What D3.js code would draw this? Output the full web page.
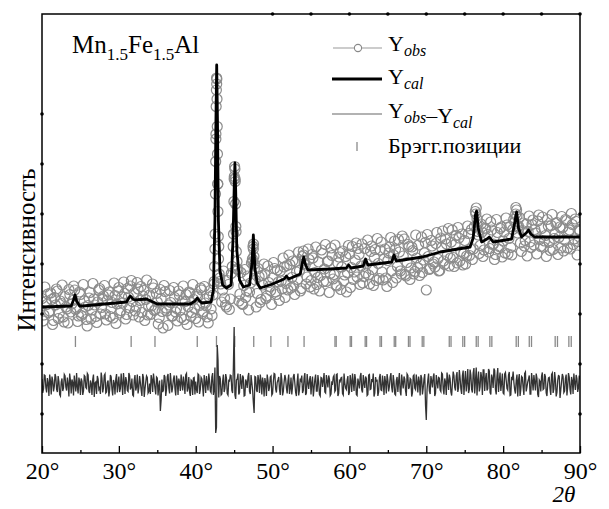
<!DOCTYPE html>
<html>
<head>
<meta charset="utf-8">
<script src="https://cdn.jsdelivr.net/npm/d3@7"></script>
<style>
  body { margin: 0; background: #fff; }
  text { font-family: "Liberation Serif", "DejaVu Serif", serif; fill: #000; }
</style>
</head>
<body>
<div id="chart"></div>
<script>
// observed intensity, grid 20..90 step 0.25 (arb. units)
var obsStart = 20, obsStep = 0.25;
var obsI = [
  23.1, 19.8, 22.5, 24.0,  20.6, 22.9, 18.7, 21.8,  24.6, 20.2, 22.1, 19.4,
  23.5, 21.0, 24.9, 20.4,  22.7, 24.8, 21.2, 19.6,  23.9, 20.1, 22.6, 18.9,
  21.7, 24.3, 20.8, 23.0,  19.5, 22.4, 25.1, 21.3,  23.6, 20.0, 22.8, 24.4,
  21.1, 19.2, 23.7, 22.0,  25.3, 20.7, 22.2, 24.1,  19.9, 23.4, 25.6, 22.5,
  24.2, 21.4, 25.0, 22.7,  20.3, 24.7, 22.9, 19.8,  23.8, 21.6, 25.2, 20.9,
  22.4, 19.3, 23.1, 17.2,  24.5, 20.6, 21.8, 22.3,  19.6, 23.3, 21.1, 24.6,
  20.8, 22.6, 18.9, 23.9,  21.5, 24.2, 20.3, 22.9,  19.1, 23.6, 21.7, 24.8,
  20.5, 22.2, 19.4, 23.4,  21.0, 23.8, 33.0, 67.0,  33.5, 26.0, 24.8, 23.2,
  21.4, 25.9, 23.0, 29.5,  47.0, 36.5, 28.9, 24.0,  22.1, 25.7, 23.3, 27.6,
  24.4, 30.2, 33.0, 26.8,  24.1, 27.5, 22.9, 25.8,  28.0, 23.6, 26.3, 24.7,
  27.2, 29.1, 23.9, 26.4,  28.6, 25.0, 29.4, 26.1,  24.8, 29.9, 27.3, 25.6,
  30.5, 26.9, 28.7, 25.1,  32.6, 29.8, 27.4, 30.9,  26.7, 31.2, 28.3, 25.9,
  30.4, 27.7, 32.1, 29.0,  26.5, 30.6, 28.1, 31.7,  27.9, 25.8, 30.2, 32.3,
  29.4, 26.6, 31.5, 28.2,  32.0, 29.3, 26.9, 30.8,  27.4, 31.9, 29.6, 26.2,
  33.1, 30.0, 27.8, 32.5,  28.9, 31.3, 26.7, 30.1,  32.8, 28.4, 31.0, 27.2,
  30.7, 33.4, 28.6, 31.8,  33.0, 29.5, 32.4, 28.0,  31.6, 27.9, 30.3, 33.5,
  29.2, 32.7, 28.5, 31.2,  33.8, 30.0, 28.3, 32.2,  24.8, 31.5, 29.1, 33.6,
  30.4, 34.1, 31.0, 28.7,  33.3, 30.6, 35.0, 31.8,  29.6, 34.4, 31.3, 33.9,
  30.2, 35.2, 32.5, 29.8,  34.7, 31.6, 36.1, 33.0,  30.9, 37.5, 41.2, 35.8,
  33.7, 36.4, 32.8, 37.0,  35.9, 33.1, 36.8, 34.0,  31.9, 36.3, 33.5, 37.4,
  34.6, 32.2, 37.8, 35.1,  33.3, 36.9, 38.4, 40.8,  37.6, 34.2, 36.7, 33.6,
  38.0, 36.5, 34.4, 37.9,  33.8, 36.2, 38.6, 34.9,  37.1, 33.4, 35.7, 38.9,
  34.3, 37.7, 32.9, 36.0,  38.3, 35.3, 33.2, 37.3,  34.8, 38.7, 36.4, 33.0,
  37.9, 35.0, 38.5, 34.5,  36.6
];

// observed intensity, in-between grid 20.125..89.875 step 0.25
var obs2Start = 20.125;
var obsI2 = [
  18.6, 25.4, 21.9, 20.3,  24.2, 17.9, 23.3, 25.0,  19.1, 22.6, 25.8, 18.4,
  21.4, 18.2, 23.9, 22.0,  25.6, 20.9, 18.5, 24.4,  19.7, 25.9, 21.4, 17.6,
  23.2, 19.0, 26.1, 21.8,  18.3, 24.8, 20.0, 22.9,  25.7, 18.8, 23.8, 19.5,
  22.3, 26.2, 18.1, 24.6,  20.2, 23.4, 26.4, 19.0,  25.1, 21.2, 26.7, 19.8,
  20.6, 26.3, 19.4, 25.5,  23.6, 18.7, 26.8, 21.5,  19.9, 26.0, 20.7, 24.1,
  18.0, 24.9, 20.5, 25.7,  21.2, 17.7, 24.7, 19.6,  25.3, 20.4, 18.6, 23.8,
  19.3, 25.6, 22.5, 17.9,  24.4, 19.5, 25.9, 21.1,  23.9, 18.4, 25.2, 20.1,
  25.5, 21.6, 18.2, 24.7,  19.7, 26.0, 55.0, 46.0,  27.2, 22.4, 28.6, 21.8,
  26.7, 20.9, 28.1, 33.5,  47.0, 30.5, 22.6, 28.3,  21.9, 28.9, 24.6, 20.8,
  26.2, 31.0, 30.0, 21.4,  29.1, 22.3, 27.7, 30.0,  23.1, 29.6, 25.5, 21.9,
  30.3, 24.4, 28.8, 22.7,  26.6, 31.2, 23.3, 29.7,  31.8, 25.2, 30.6, 23.9,
  28.4, 32.4, 24.6, 31.5,  30.1, 26.0, 33.0, 25.4,  31.9, 25.0, 33.4, 27.3,
  24.6, 32.8, 26.5, 33.9,  30.5, 24.3, 33.2, 27.0,  33.8, 25.6, 31.4, 24.9,
  32.6, 27.8, 24.4, 33.7,  25.3, 33.5, 28.4, 34.2,  33.1, 25.9, 34.0, 27.5,
  28.2, 34.8, 26.0, 33.6,  25.7, 32.9, 35.1, 27.1,  34.4, 26.8, 33.0, 25.5,
  32.2, 35.3, 26.3, 34.6,  27.2, 34.9, 28.6, 35.6,  35.0, 27.6, 33.9, 26.9,
  33.4, 28.0, 35.8, 29.3,  27.7, 35.4, 30.8, 34.3,  35.9, 28.9, 34.7, 30.0,
  29.4, 36.3, 28.6, 35.2,  36.6, 29.9, 34.0, 37.1,  31.2, 36.8, 29.5, 35.7,
  37.3, 30.6, 36.0, 32.1,  30.0, 37.6, 31.7, 36.9,  33.0, 40.5, 37.8, 32.1,
  38.0, 31.5, 37.2, 39.0,  32.4, 38.4, 33.9, 30.9,  38.9, 33.0, 37.1, 31.4,
  36.4, 39.2, 32.0, 37.5,  31.8, 38.9, 40.0, 36.2,  39.3, 32.5, 38.2, 34.7,
  31.6, 39.6, 33.3, 38.8,  36.9, 32.0, 39.8, 33.5,  39.4, 34.6, 31.5, 37.6,
  32.7, 39.9, 35.1, 38.1,  31.9, 37.4, 39.5, 32.6,  38.9, 33.2, 36.8, 40.1,
  33.9, 39.0, 31.8, 36.9
];

// extra observed points measured across the reflections [2theta, I]
var obsPeaks = [
  [42.40, 26.5], [42.45, 29.5], [42.52, 36.0], [42.57, 44.0], [42.60, 50.5],
  [42.63, 56.0], [42.66, 61.5], [42.69, 64.8], [42.71, 67.2], [42.73, 66.0],
  [42.77, 63.0], [42.80, 57.5], [42.83, 52.0], [42.86, 46.0], [42.89, 40.5],
  [42.93, 35.5], [42.97, 31.0], [43.05, 28.0], [43.12, 26.5],
  [44.92, 36.0], [44.97, 42.5], [45.02, 47.5], [45.06, 49.5], [45.10, 49.0],
  [45.14, 46.5], [45.18, 42.0], [45.22, 37.5], [45.28, 32.5], [45.35, 29.0],
  [47.40, 30.5], [47.45, 33.5], [47.52, 34.0], [47.57, 31.5], [47.63, 29.0],
  [54.02, 31.8], [54.10, 30.6],
  [76.45, 40.0], [76.60, 39.0], [76.70, 36.5],
  [81.65, 41.3], [81.80, 39.6], [81.90, 37.4]
];

// calculated profile [2theta, I]
var calc = [
  [20.0, 21.4], [23.8, 21.6], [24.1, 22.8], [24.3, 23.8], [24.5, 22.6], [24.9, 21.6],
  [25.3, 21.6], [31.0, 22.4], [31.3, 23.2], [31.5, 23.6], [31.8, 23.0], [32.1, 22.8],
  [33.6, 23.0], [35.0, 22.0], [39.3, 22.0], [39.9, 22.6], [40.2, 23.2], [40.5, 22.6],
  [40.8, 22.2], [42.0, 22.4], [42.3, 24.8], [42.5, 38.8], [42.63, 58.8], [42.73, 69.8],
  [42.83, 58.8], [42.95, 38.8], [43.15, 28.8], [43.5, 25.8], [44.0, 25.2], [44.6, 25.8],
  [44.85, 34.8], [45.0, 44.8], [45.1, 50.2], [45.2, 44.8], [45.35, 32.8], [45.7, 26.8],
  [46.2, 25.4], [47.0, 25.8], [47.3, 29.8], [47.5, 35.8], [47.7, 29.2], [48.0, 26.2],
  [48.4, 25.2], [50.0, 26.0], [51.5, 27.0], [51.8, 27.6], [52.1, 27.0], [53.6, 28.0],
  [53.9, 30.4], [54.05, 31.4], [54.25, 30.0], [54.6, 28.8], [57.5, 29.0], [59.6, 29.2],
  [59.9, 29.8], [60.2, 29.2], [61.8, 29.6], [62.1, 31.0], [62.4, 29.8], [65.5, 30.4],
  [65.8, 31.8], [66.1, 30.6], [69.5, 31.4], [71.8, 32.4], [75.7, 33.4], [76.1, 35.2],
  [76.4, 39.8], [76.55, 40.6], [76.75, 37.2], [77.2, 34.4], [77.9, 35.0], [78.2, 35.4],
  [78.7, 34.4], [81.1, 35.0], [81.45, 37.8], [81.75, 40.4], [82.0, 37.2], [82.4, 35.4],
  [83.0, 36.2], [83.3, 36.8], [83.6, 36.0], [84.1, 35.4], [90.0, 35.4]
];

// difference Yobs - Ycal, drawn around diffBase
// diffA: 20.0..90.0 step 0.2, diffB: 20.1..89.9 step 0.2
var diffBase = 5.8, diffStep = 0.2;
var diffA = [
  1.2, -0.8, 1.9, -1.5, 0.4, 2.1, -1.9, 0.9, -0.3, 1.6,
  -1.4, 0.7, -2.2, 1.3, -0.6, 1.8, -1.1, 0.2, 2.3, -1.7,
  0.5, 1.9, -1.3, -0.4, 1.5, -2.0, 0.8, -1.2, 1.7, -0.7,
  2.0, -1.6, 0.3, 1.1, -2.4, 0.6, 1.8, -0.9, -1.8, 1.4,
  -0.5, 2.2, -1.4, 0.9, -1.0, 1.6, -2.1, 0.4, 1.2, -1.5,
  1.7, -0.7, 0.2, 2.4, -1.8, 0.8, -1.3, 1.9, -0.4, -2.0,
  1.0, -1.1, 2.1, -0.6, 0.5, -2.2, 1.5, -0.8, 1.8, -1.6,
  0.3, 2.0, -1.4, 0.9, -1.9, 1.4, -0.2, -5.2, 1.1, -1.0,
  1.6, -0.9, 2.2, -1.7, 0.6, -0.4, 1.9, -2.1, 0.8, 1.3,
  -1.2, 0.4, 1.7, -1.8, 2.3, -0.6, -1.4, 1.0, -2.0, 1.5,
  0.7, -1.6, 2.0, -0.9, 1.2, -2.3, 0.5, 1.8, -1.1, 0.9,
  -1.5, 2.4, -1.0, -9.6, 8.0, -2.5, 1.3, -1.8, 2.1, -0.7,
  1.4, -2.0, 0.8, 1.9, -1.6, 11.6, -2.8, 1.2, -1.9, 2.2,
  -0.8, 1.5, -2.1, 0.6, 1.7, -1.3, 2.0, -1.0, -5.6, 1.6,
  -1.4, 0.9, 2.1, -1.9, 0.3, 1.4, -2.2, 1.0, -0.5, 1.8,
  -1.7, 2.3, -0.8, 0.5, 1.6, -2.0, 1.1, -1.3, 2.0, -0.6,
  0.8, -1.8, 1.5, -0.3, 2.2, -1.5, 0.6, -2.1, 1.3, 1.9,
  -1.1, 2.4, -1.6, 0.4, 1.0, -1.9, 1.7, -0.7, 2.1, -1.2,
  0.6, -2.2, 1.4, 0.9, -1.4, 2.0, -0.5, 1.2, -1.8, 0.3,
  1.9, -1.0, 2.2, -1.7, 0.7, 1.5, -2.0, 0.4, -0.9, 1.8,
  -1.5, 0.8, 2.3, -1.2, 1.1, -2.1, 0.5, 1.7, -1.0, 2.0,
  -0.6, 1.3, -1.9, 2.1, -0.8, 0.6, -2.3, 1.6, 0.9, -1.4,
  2.2, -1.1, 0.4, 1.8, -1.7, 1.0, -0.3, 2.4, -1.5, 0.7,
  -2.0, 1.6, 0.8, -1.3, 2.1, -0.7, 1.2, -2.2, 1.9, -0.4,
  1.1, -1.6, 2.0, -0.9, 0.5, 1.7, -2.1, 1.4, -0.6, 2.2,
  -7.0, 1.0, -1.2, 1.8, -0.5, 2.3, -1.7, 0.6, 1.5, -1.0,
  2.4, -0.8, 1.3, -2.0, 0.9, 2.1, -1.4, 0.3, 1.9, -1.1,
  2.6, -0.6, 1.4, -1.8, 2.9, 0.7, -1.3, 3.2, -0.9, 2.0,
  -1.5, 3.4, 0.8, -2.1, 2.7, -0.4, 1.6, 3.0, -1.2, 2.4,
  -0.7, 2.8, -1.9, 1.3, 3.3, -0.9, 1.8, -1.4, 2.5, 0.4,
  -1.6, 2.2, 0.9, -1.0, 2.6, -2.0, 1.2, 0.5, -1.7, 2.1,
  1.0, -2.2, 1.7, -0.5, 2.3, -1.3, 0.6, 1.9, -1.8, 0.8,
  2.0, -1.1, 1.4, -2.4, 0.7, 1.8, -0.9, 2.2, -1.6, 0.3,
  1.5, -2.0, 2.4, -0.8, 1.1, -1.5, 1.9, -2.6, 0.6, 1.7,
  -1.2, 2.1, -0.4, 1.6, -1.9, 0.9, 2.3, -1.0, 1.3, -0.6,
  1.1
];
var diffB = [
  -1.6, 2.0, -0.5, 1.4, -2.2, 0.8, 1.7, -1.3, 2.2, -0.9,
  1.8, -1.9, 0.6, -1.2, 2.1, -0.4, 1.5, -2.3, 0.9, 1.1,
  -2.1, 0.3, 2.4, -1.7, 0.7, 1.3, -2.0, 1.9, -0.5, 2.3,
  -1.2, 0.9, -2.0, 2.1, 0.4, -1.8, 1.2, -0.6, 2.5, -1.5,
  1.9, -1.6, 0.5, -2.3, 2.0, -0.8, 1.0, -1.9, 2.2, 0.2,
  -1.4, 2.3, -2.0, 0.7, 1.6, -1.1, 2.4, -0.9, 1.3, -2.2,
  2.0, -0.4, -1.7, 1.8, -1.0, 2.2, -2.4, 0.6, 1.5, -1.3,
  -1.8, 1.1, 2.3, -0.7, 1.6, -2.1, 0.9, -3.0, -1.4, 2.0,
  -2.2, 1.7, -0.6, 2.4, -1.5, 1.2, -0.8, 1.9, -2.0, 0.5,
  2.1, -1.1, 0.3, 2.0, -1.3, 1.6, -2.2, 0.8, 1.4, -1.9,
  -0.9, 2.2, -1.8, 1.5, -0.3, 2.0, -1.6, 0.4, 2.3, -1.2,
  1.6, -2.0, 3.5, -8.5, 5.0, 1.8, -2.0, 0.7, -1.4, 2.2,
  -1.7, 0.9, 2.0, -1.1, 3.5, -2.0, 1.0, 2.3, -1.5, 0.6,
  1.9, -2.2, 1.1, -0.6, 2.4, -1.8, 0.5, -3.5, 1.7, -1.0,
  2.0, -1.6, 0.8, 1.5, -2.3, 0.4, 2.1, -1.2, 1.6, -2.0,
  0.7, 2.2, -1.5, 1.0, -0.9, 2.4, -2.1, 0.6, 1.3, -1.7,
  2.1, -0.7, -1.9, 1.7, 0.3, -2.2, 2.3, -1.0, 0.9, -1.6,
  1.4, -2.0, 2.2, -0.8, 1.8, 0.4, -2.3, 1.1, -1.2, 2.0,
  -1.9, 1.5, -0.4, 2.4, -1.6, 0.8, 1.9, -2.1, 0.5, 1.6,
  -1.3, 2.1, -2.2, 0.9, 1.4, -1.7, 2.3, -0.6, 1.0, -2.0,
  2.0, -1.4, 0.6, 2.2, -1.9, 1.3, -0.7, 2.4, -1.5, 0.4,
  1.7, -2.1, 2.0, -0.9, 1.2, 2.3, -1.6, 0.8, -2.2, 1.5,
  -1.0, 1.9, -2.0, 0.6, 2.2, -1.3, 1.6, -0.5, 2.0, -1.8,
  0.9, -1.4, 2.4, -2.1, 0.5, 1.7, -1.1, 2.2, -0.8, 1.3,
  -2.3, 1.8, -0.6, 2.1, -1.5, 0.7, 2.0, -1.9, 1.2, -4.0,
  -1.0, 2.3, -1.8, 0.9, 1.6, -2.2, 2.0, -0.7, 1.4, -1.3,
  2.2, -1.9, 0.6, 2.5, -1.0, 1.3, -2.1, 2.7, -0.5, 1.8,
  -1.4, 3.0, -0.8, 1.9, -2.0, 2.8, 0.5, -1.6, 3.1, -0.9,
  2.4, -1.7, 3.5, 0.9, -1.3, 2.6, -2.0, 3.0, 1.2, -1.1,
  3.2, -1.5, 2.1, -0.6, 2.9, -1.9, 3.4, 0.8, -1.2, 2.3,
  -1.8, 2.5, -0.7, 2.0, -2.1, 1.4, 2.7, -1.0, 0.9, -2.3,
  2.2, -0.9, 1.5, -2.0, 2.6, -0.4, 1.2, -1.8, 2.4, -1.1,
  0.6, 2.3, -1.9, 1.0, -1.3, 2.5, -0.7, 1.7, -2.2, 1.4,
  -0.8, 2.1, -1.6, 2.6, -2.3, 0.9, 1.8, -1.0, 2.2, -1.5,
  1.3, -2.1, 2.4, -0.9, 1.6, -1.8, 0.5, 2.0, -1.4, 1.9
];

// Bragg positions (K-alpha1 and the K-alpha2 partners that show at high angle)
var bragg = [24.35, 31.6, 34.7, 40.2, 42.7, 45.08, 47.55, 49.78, 52.0, 54.1,
  58.12, 60.1, 62.05, 63.98, 65.83, 67.68, 69.47, 72.99, 74.75, 76.5, 78.27,
  81.7, 83.4, 86.77, 88.55];
var bragg2 = [58.28, 60.27, 62.23, 64.17, 66.02, 67.88, 69.68, 73.22, 74.99,
  76.75, 78.53, 81.98, 83.69, 87.07, 88.86];
var braggLevel = 14.5;

var xTicks = [20, 30, 40, 50, 60, 70, 80, 90];
var xMinor = [25, 35, 45, 55, 65, 75, 85];
var topDots = [50, 55, 60, 65, 70, 75, 80, 85, 90];
var leftDots = [0, 10, 20, 30, 40, 50, 60];
var rightDots = [0, 10, 20, 30, 40];

var W = 609, H = 509;
var pL = 42, pR = 580, pT = 14, pB = 453;

var svg = d3.select("#chart").append("svg")
  .attr("width", W).attr("height", H);

var x = d3.scaleLinear().domain([20, 90]).range([pL, pR]);
var y = d3.scaleLinear().domain([-7.8, 80]).range([pB, pT]);

svg.append("clipPath").attr("id", "clip")
  .append("rect")
  .attr("x", pL).attr("y", pT)
  .attr("width", pR - pL).attr("height", pB - pT);

var plot = svg.append("g").attr("clip-path", "url(#clip)");

// observed points
var obsPts = obsI.map(function(v, i) { return [obsStart + i * obsStep, v]; })
  .concat(obsI2.map(function(v, i) { return [obs2Start + i * obsStep, v]; }))
  .concat(obsPeaks);
plot.append("g")
  .selectAll("circle")
  .data(obsPts)
  .enter()
  .append("circle")
    .attr("cx", function(d) { return x(d[0]); })
    .attr("cy", function(d) { return y(d[1]); })
    .attr("r", 5)
    .style("fill", "none")
    .style("stroke", "#8c8c8c")
    .style("stroke-width", 1.2);

// calculated
var line = d3.line()
  .x(function(d) { return x(d[0]); })
  .y(function(d) { return y(d[1]); });

plot.append("path")
  .datum(calc)
  .attr("d", line)
  .style("fill", "none")
  .style("stroke", "#000")
  .style("stroke-width", 2.8)
  .style("stroke-linejoin", "round");

// bragg ticks
plot.append("g")
  .selectAll("line")
  .data(bragg.concat(bragg2))
  .enter()
  .append("line")
    .attr("x1", function(d) { return x(d); })
    .attr("x2", function(d) { return x(d); })
    .attr("y1", y(braggLevel - 1.1))
    .attr("y2", y(braggLevel + 1.1))
    .style("stroke", "#8a8a8a")
    .style("stroke-width", 1.3);

// difference
var diffPts = diffA.map(function(v, i) { return [20 + i * diffStep, diffBase + v]; })
  .concat(diffB.map(function(v, i) { return [20.1 + i * diffStep, diffBase + v]; }))
  .sort(function(a, b) { return a[0] - b[0]; });
plot.append("path")
  .datum(diffPts)
  .attr("d", line)
  .style("fill", "none")
  .style("stroke", "#333")
  .style("stroke-width", 1.3);

// frame
svg.append("rect")
  .attr("x", pL).attr("y", pT)
  .attr("width", pR - pL).attr("height", pB - pT)
  .style("fill", "none")
  .style("stroke", "#000")
  .style("stroke-width", 1.5);

// bottom axis
var xAxis = svg.append("g")
  .attr("transform", "translate(0," + pB + ")")
  .call(d3.axisBottom(x).tickValues(xTicks).tickSize(-7).tickPadding(9)
    .tickFormat(function(d) { return d + "°"; }));
xAxis.select(".domain").remove();
xAxis.selectAll(".tick line").style("stroke-width", 1.3);
xAxis.selectAll("text")
  .style("font-family", "'Liberation Serif', serif")
  .style("font-size", "24px");

var xAxisMinor = svg.append("g")
  .attr("transform", "translate(0," + pB + ")")
  .call(d3.axisBottom(x).tickValues(xMinor).tickSize(-3).tickFormat(""));
xAxisMinor.select(".domain").remove();
xAxisMinor.selectAll(".tick line").style("stroke-width", 1.3);

// small dot ticks on the frame
svg.append("g").selectAll("circle").data(topDots).enter().append("circle")
  .attr("cx", function(d) { return x(d); }).attr("cy", pT).attr("r", 1.8);
svg.append("g").selectAll("circle").data(leftDots).enter().append("circle")
  .attr("cx", pL).attr("cy", function(d) { return y(d); }).attr("r", 1.8);
svg.append("g").selectAll("circle").data(rightDots).enter().append("circle")
  .attr("cx", pR).attr("cy", function(d) { return y(d); }).attr("r", 1.8);

// axis titles
svg.append("text")
  .attr("transform", "translate(35,250) rotate(-90)")
  .attr("text-anchor", "middle")
  .style("font-size", "25px")
  .text("Интенсивность");

svg.append("text")
  .attr("x", 564).attr("y", 502)
  .attr("text-anchor", "middle")
  .style("font-size", "23px")
  .style("font-style", "italic")
  .text("2θ");

// compound label
var title = svg.append("text").attr("x", 72).attr("y", 53).style("font-size", "25px");
title.append("tspan").text("Mn");
title.append("tspan").attr("dy", 7).style("font-size", "17px").text("1.5");
title.append("tspan").attr("dy", -7).text("Fe");
title.append("tspan").attr("dy", 7).style("font-size", "17px").text("1.5");
title.append("tspan").attr("dy", -7).text("Al");

// legend
var lg = svg.append("g");
lg.append("line").attr("x1", 333).attr("x2", 382).attr("y1", 48).attr("y2", 48)
  .style("stroke", "#999").style("stroke-width", 1.2);
lg.append("circle").attr("cx", 358).attr("cy", 48).attr("r", 3.6)
  .style("fill", "#fff").style("stroke", "#888").style("stroke-width", 1.1);
lg.append("line").attr("x1", 332).attr("x2", 382).attr("y1", 79).attr("y2", 79)
  .style("stroke", "#000").style("stroke-width", 3);
lg.append("line").attr("x1", 332).attr("x2", 382).attr("y1", 114).attr("y2", 114)
  .style("stroke", "#666").style("stroke-width", 1.2);
lg.append("line").attr("x1", 357).attr("x2", 357).attr("y1", 142).attr("y2", 151)
  .style("stroke", "#8a8a8a").style("stroke-width", 1.3);

function legendY(yy, parts) {
  var t = lg.append("text").attr("x", 388).attr("y", yy).style("font-size", "22px");
  parts.forEach(function(p) {
    if (p.sub) {
      t.append("tspan").attr("dy", 5).style("font-size", "16px")
        .style("font-style", "italic").text(p.sub);
      t.append("tspan").attr("dy", -5).text("");
    } else {
      t.append("tspan").text(p.txt);
    }
  });
}
legendY(51, [{txt: "Y"}, {sub: "obs"}]);
legendY(84, [{txt: "Y"}, {sub: "cal"}]);
legendY(118, [{txt: "Y"}, {sub: "obs"}, {txt: "–Y"}, {sub: "cal"}]);
lg.append("text").attr("x", 388).attr("y", 153).style("font-size", "22px")
  .text("Брэгг.позиции");
</script>
</body>
</html>
